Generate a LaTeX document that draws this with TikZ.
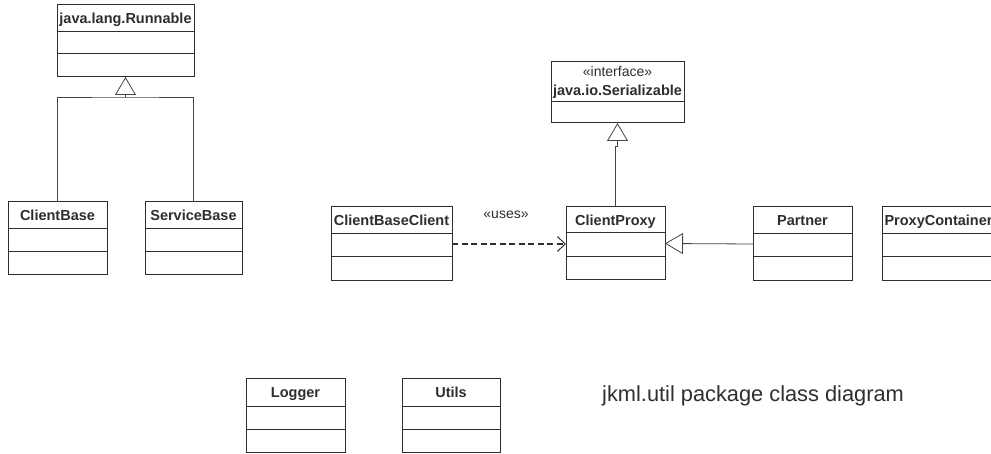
\documentclass[tikz,border=0pt]{standalone}
\usepackage{fontspec}
\setmainfont{Liberation Sans}
\usetikzlibrary{arrows.meta}
\definecolor{ink}{HTML}{2E2E2E}
\definecolor{wire}{HTML}{444444}
\tikzset{
  classbox/.style={draw=ink, line width=1pt, fill=white, inner sep=0pt, outer sep=0pt},
  classline/.style={draw=ink, line width=1pt},
  classname/.style={text=ink, font=\bfseries\fontsize{14.5}{17}\selectfont, inner sep=0pt, anchor=base},
  stereo/.style={text=ink, font=\fontsize{14}{16}\selectfont, inner sep=0pt, anchor=base},
  generalize/.style={draw=wire, line width=0.8pt, -{Triangle[open, length=18pt, width=21pt]}},
  depends/.style={draw=ink, line width=1.3pt, dash pattern=on 6pt off 3.5pt, -{Straight Barb[length=8pt, width=15pt, line width=1pt]}},
}
% name, x1, y1, x2, y2, first separator, second separator, class name
\newcommand\umlclass[8]{%
  \node[classbox, minimum width={#4-#2}, minimum height={#5-#3}] (#1) at ({(#2+#4)/2},{(#3+#5)/2}) {};
  \draw[classline] (#2,#6) -- (#4,#6) (#2,#7) -- (#4,#7);
  \node[classname] at ({(#2+#4)/2},{(#3+#6)/2+5.2}) {#8};
}
\begin{document}
\begin{tikzpicture}[x=1pt, y=-1pt]
  \useasboundingbox (0,0) rectangle (991,454);
  \clip (0,0) rectangle (991,454);

  % Runnable hierarchy
  \umlclass{jr}{57}{5}{194}{77}{32}{54}{java.lang.Runnable}
  \umlclass{cb}{8}{202}{107}{275}{229}{252}{ClientBase}
  \umlclass{sb}{145}{202}{242}{275}{229}{252}{ServiceBase}
  \coordinate (jrjoin) at (125.5,97);
  \draw[draw=wire, line width=0.8pt] (cb.north) |- (jrjoin) -| (sb.north);
  \draw[generalize] (jrjoin) -- (jr.south);

  % Serializable interface
  \node[classbox, minimum width=133, minimum height=61] (ser) at (617.5,92.5) {};
  \draw[classline] (551,102) -- (684,102);
  \node[stereo] at (617.5,77) {«interface»};
  \node[classname] at (617.5,96) {java.io.Serializable};

  % Proxy classes
  \umlclass{cbc}{331}{207}{452}{281}{234}{257}{ClientBaseClient}
  \umlclass{cp}{566}{207}{665}{280}{233}{257}{ClientProxy}
  \umlclass{part}{753}{207}{852}{281}{234}{257}{Partner}
  \umlclass{pc}{882}{207}{995}{281}{234}{257}{ProxyContainer}

  \coordinate (serjog) at (617.5,146);
  \draw[draw=wire, line width=0.8pt] (cp.north) |- (serjog);
  \draw[generalize] (serjog) -- (ser.south);
  \draw[generalize] (part.west) -- (cp.east);
  \draw[depends] (cbc.east) -- (cp.west |- cbc.east);
  \node[stereo] (uses) at (506,218.5) {«uses»};

  % Utility classes
  \umlclass{log}{246}{379}{345}{452}{406}{429}{Logger}
  \umlclass{ut}{402}{379}{500}{452}{406}{429}{Utils}

  \node[anchor=base west, inner sep=0pt, text=ink, font=\fontsize{21.8}{26}\selectfont] (title) at (602,402) {jkml.util package class diagram};
\end{tikzpicture}
\end{document}
